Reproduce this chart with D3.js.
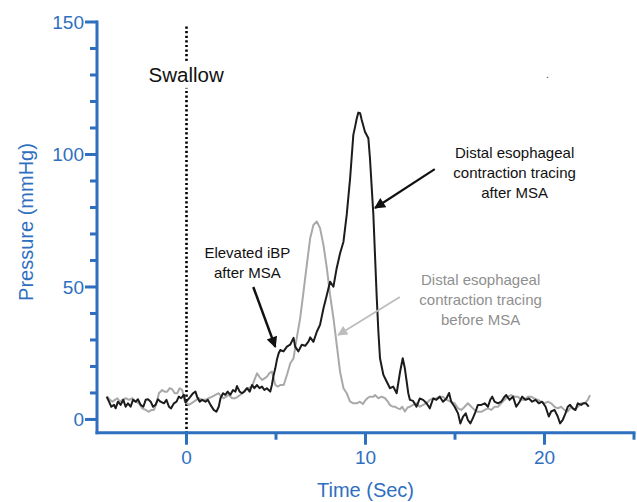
<!DOCTYPE html>
<html><head><meta charset="utf-8">
<script src="https://cdn.jsdelivr.net/npm/d3@7"></script>
<style>
html,body{margin:0;padding:0;background:#fff;}
svg{display:block;font-family:"Liberation Sans",Arial,sans-serif;}
</style></head>
<body>
<svg id="chart" width="637" height="502"></svg>
<script>
// ---- data ----
const afterT = [-4.46,-4.33,-4.20,-4.05,-3.96,-3.83,-3.68,-3.53,-3.40,-3.27,-3.12,-2.99,-2.84,-2.71,-2.56,-2.41,-2.28,-2.15,-2.00,-1.87,-1.73,-1.60,-1.45,-1.26,-1.12,-0.98,-0.86,-0.70,-0.56,-0.43,-0.30,-0.15,-0.05,0.07,0.22,0.37,0.50,0.59,0.74,0.87,1.06,1.19,1.34,1.52,1.67,1.80,1.90,2.04,2.17,2.30,2.45,2.60,2.73,2.82,2.97,3.10,3.23,3.38,3.53,3.66,3.79,3.94,4.08,4.22,4.35,4.49,4.68,4.77,4.87,4.96,5.05,5.15,5.24,5.42,5.61,5.79,5.98,6.07,6.25,6.44,6.63,6.82,6.91,7.09,7.28,7.46,7.65,7.84,8.02,8.21,8.39,8.58,8.77,8.95,9.14,9.32,9.42,9.51,9.60,9.70,9.79,9.97,10.16,10.25,10.35,10.44,10.53,10.63,10.72,10.81,11.00,11.18,11.37,11.55,11.74,11.93,12.08,12.20,12.39,12.48,12.66,12.85,13.03,13.22,13.41,13.59,13.78,13.96,14.15,14.33,14.52,14.67,14.79,14.98,15.17,15.30,15.45,15.60,15.72,15.86,16.00,16.15,16.28,16.47,16.66,16.84,16.97,17.08,17.21,17.40,17.58,17.77,17.86,18.05,18.24,18.42,18.61,18.75,18.94,19.13,19.31,19.50,19.68,19.87,20.06,20.24,20.37,20.56,20.74,20.87,21.02,21.17,21.30,21.43,21.58,21.73,21.86,22.05,22.18,22.32,22.47];
const afterP = [8.6,6.7,4.8,5.5,4.2,6.7,5.5,7.4,4.8,6.1,4.8,7.4,6.7,7.6,5.5,4.8,7.4,7.6,6.7,4.8,5.5,7.6,6.7,6.1,7.4,4.8,4.2,6.1,6.7,8.6,8.0,9.3,6.4,7.4,8.6,9.9,10.5,8.6,6.7,7.4,6.7,7.4,5.5,3.6,2.9,4.8,8.0,9.9,9.3,10.5,9.3,11.1,10.5,12.6,10.5,9.9,10.5,11.8,10.5,13.0,11.8,13.0,11.8,12.4,11.1,11.8,10.5,13.0,16.8,19.3,22.5,25.0,26.2,25.7,27.5,28.2,30.8,27.5,25.7,28.2,27.8,29.5,31.0,29.3,33.1,35.7,41.9,47.0,52.0,50.1,57.1,62.7,67.1,77.2,91.0,107.4,110.5,113.6,115.8,115.6,113.0,108.6,106.1,98.5,87.2,77.2,62.1,45.7,33.1,23.1,16.8,14.3,11.8,12.4,9.9,17.9,23.1,19.2,9.9,7.4,7.0,4.8,7.9,7.4,6.1,4.2,7.9,7.4,8.6,6.7,7.9,10.0,6.7,4.8,2.3,-1.5,1.1,2.3,-0.2,-1.5,0.5,3.0,5.5,5.5,6.1,4.8,7.4,8.6,6.7,6.1,6.7,8.6,9.2,7.4,8.6,4.8,6.7,8.6,7.4,7.9,6.7,7.4,6.1,6.7,4.8,1.1,3.0,3.6,1.1,-1.5,-0.2,2.3,4.8,5.5,4.2,3.6,6.1,5.5,6.1,6.1,4.8];

const beforeT = [-4.42,-4.28,-4.14,-4.00,-3.86,-3.72,-3.58,-3.40,-3.21,-3.02,-2.84,-2.66,-2.47,-2.28,-2.10,-1.96,-1.82,-1.68,-1.54,-1.36,-1.22,-1.08,-0.94,-0.80,-0.66,-0.52,-0.38,-0.24,-0.09,0.13,0.27,0.41,0.55,0.69,0.87,1.06,1.24,1.43,1.62,1.80,1.94,2.08,2.22,2.36,2.55,2.73,2.87,3.01,3.20,3.38,3.52,3.66,3.80,3.94,4.08,4.22,4.36,4.50,4.63,4.77,4.96,5.10,5.24,5.43,5.61,5.80,5.98,6.16,6.35,6.54,6.72,6.91,7.09,7.28,7.46,7.65,7.84,8.02,8.21,8.39,8.58,8.77,8.95,9.13,9.32,9.51,9.69,9.85,9.97,10.10,10.25,10.44,10.53,10.72,10.90,11.09,11.25,11.37,11.50,11.65,11.80,11.93,12.05,12.20,12.35,12.48,12.66,12.85,13.03,13.22,13.41,13.59,13.78,13.96,14.15,14.33,14.52,14.79,14.98,15.17,15.35,15.54,15.72,15.91,16.09,16.28,16.47,16.66,16.84,17.03,17.21,17.40,17.58,17.77,17.95,18.14,18.33,18.52,18.70,18.89,19.07,19.26,19.44,19.63,19.81,20.00,20.18,20.37,20.56,20.74,20.93,21.11,21.30,21.49,21.67,21.86,22.05,22.24,22.42,22.54];
const beforeP = [8.6,7.4,6.7,7.4,8.0,6.7,7.4,8.0,7.4,8.0,6.7,6.1,4.2,3.6,2.9,3.6,3.6,6.1,9.9,11.1,10.5,10.5,11.8,11.4,9.9,9.9,11.8,11.1,6.7,5.5,6.1,6.7,7.4,8.0,7.4,7.4,8.0,8.6,9.3,9.9,8.6,8.0,8.6,9.3,8.0,8.0,8.6,9.3,10.5,11.8,12.0,12.4,15.0,17.4,16.0,14.9,15.5,16.2,17.5,18.1,13.0,12.4,13.0,13.0,16.8,21.2,23.1,30.8,38.2,48.3,58.3,68.4,73.4,74.7,72.2,65.9,57.1,47.0,38.2,28.3,18.0,11.8,9.9,6.8,6.1,6.1,6.7,5.8,7.0,8.0,8.6,8.6,9.2,8.0,8.6,8.0,6.7,5.4,4.9,4.8,4.2,3.9,4.8,3.0,4.5,4.8,5.5,6.1,4.8,5.5,6.1,7.4,7.9,8.0,8.6,8.6,7.4,6.7,6.1,4.2,3.6,4.8,6.1,4.8,3.6,2.9,2.9,3.6,4.2,3.6,4.8,4.8,6.1,7.4,8.6,9.2,8.6,8.6,7.4,7.4,8.6,8.6,7.9,7.4,6.7,6.1,6.7,6.1,4.8,4.2,4.8,3.6,3.0,4.8,3.6,4.8,6.1,6.1,7.4,9.2];

const xTicksMajor = [0, 10, 20];
const xTicksMinor = [5, 15, 25];
const yTicksMajor = [0, 50, 100, 150];
const yTicksMinor = [10, 20, 30, 40, 60, 70, 80, 90, 110, 120, 130, 140];
const swallowLabel = "Swallow";
const ibpLabel = ["Elevated iBP", "after MSA"];
const afterLabel = ["Distal esophageal", "contraction tracing", "after MSA"];
const beforeLabel = ["Distal esophageal", "contraction tracing", "before MSA"];
const xTitle = "Time (Sec)";
const yTitle = "Pressure (mmHg)";

// ---- layout ----
const BLUE = "#2f6fbf";
const svg = d3.select("#chart");
const x = d3.scaleLinear().domain([-5, 25]).range([97, 634]);
const y = d3.scaleLinear().domain([-5, 150]).range([432.7, 22]);

// arrowheads
const defs = svg.append("defs");
function marker(id, color, w, h) {
  defs.append("marker").attr("id", id).attr("viewBox", "0 0 10 10")
    .attr("refX", 9).attr("refY", 5).attr("markerUnits", "userSpaceOnUse")
    .attr("markerWidth", w).attr("markerHeight", h).attr("orient", "auto")
    .append("path").attr("d", "M0,0 L10,5 L0,10 Z").attr("fill", color);
}
marker("ahBlack", "#111", 13, 11);
marker("ahGray", "#bdbdbd", 12, 10);

// swallow dotted line
svg.append("line")
  .attr("x1", x(0)).attr("x2", x(0)).attr("y1", y(148.3)).attr("y2", y(-4.9))
  .attr("stroke", "#000").attr("stroke-width", 2.6).attr("stroke-dasharray", "2.2,2.4");

// swallow label with white background
const sw = svg.append("text").attr("x", x(-2.12)).attr("y", y(127.4))
  .attr("font-size", 20.5).attr("fill", "#111").text(swallowLabel);
const bb = sw.node().getBBox();
svg.insert("rect", "text").attr("x", bb.x).attr("y", bb.y - 2)
  .attr("width", bb.width).attr("height", bb.height + 4).attr("fill", "#fff");

svg.append("text").attr("x", 546).attr("y", 78).attr("font-size", 10).attr("fill", "#333").text(".");

// traces
const line = d3.line().x(d => x(d[0])).y(d => y(d[1]));
const beforeData = beforeT.map((t, i) => [t, beforeP[i]]);
const afterData = afterT.map((t, i) => [t, afterP[i]]);
svg.append("path").datum(beforeData).attr("d", line)
  .attr("fill", "none").attr("stroke", "#a9a9a9").attr("stroke-width", 2).attr("stroke-linejoin", "round");
svg.append("path").datum(afterData).attr("d", line)
  .attr("fill", "none").attr("stroke", "#1c1c1c").attr("stroke-width", 2).attr("stroke-linejoin", "round");

// annotations
function multiline(lines, cx, baseV, color) {
  const t = svg.append("text").attr("text-anchor", "middle").attr("font-size", 15).attr("fill", color);
  lines.forEach((s, i) => t.append("tspan").attr("x", x(cx)).attr("y", y(baseV) + i * 20).text(s));
}
multiline(ibpLabel, 3.40, 60.9, "#111");
multiline(afterLabel, 18.33, 98.7, "#111");
multiline(beforeLabel, 16.43, 50.8, "#8f8f8f");

svg.append("line").attr("x1", x(3.73)).attr("y1", y(50.0)).attr("x2", x(4.96)).attr("y2", y(27.4))
  .attr("stroke", "#111").attr("stroke-width", 2.5).attr("marker-end", "url(#ahBlack)");
svg.append("line").attr("x1", x(13.87)).attr("y1", y(94.5)).attr("x2", x(10.53)).attr("y2", y(79.8))
  .attr("stroke", "#111").attr("stroke-width", 2.2).attr("marker-end", "url(#ahBlack)");
svg.append("line").attr("x1", x(11.92)).attr("y1", y(46.2)).attr("x2", x(8.47)).attr("y2", y(31.9))
  .attr("stroke", "#bdbdbd").attr("stroke-width", 1.8).attr("marker-end", "url(#ahGray)");

// axes
const ax = svg.append("g").attr("stroke", BLUE).attr("stroke-width", 3).attr("stroke-linecap", "square");
ax.append("line").attr("x1", x(-5)).attr("x2", x(25)).attr("y1", y(-5)).attr("y2", y(-5));
ax.append("line").attr("x1", x(-5)).attr("x2", x(-5)).attr("y1", y(-5)).attr("y2", y(150));
xTicksMajor.forEach(v => ax.append("line").attr("x1", x(v)).attr("x2", x(v)).attr("y1", y(-5)).attr("y2", y(-5) + 12).attr("stroke-linecap", "butt"));
xTicksMinor.forEach(v => ax.append("line").attr("x1", x(v)).attr("x2", x(v)).attr("y1", y(-5)).attr("y2", y(-5) + 7).attr("stroke-linecap", "butt"));
yTicksMajor.forEach(v => ax.append("line").attr("y1", y(v)).attr("y2", y(v)).attr("x1", x(-5)).attr("x2", x(-5) - 12).attr("stroke-linecap", "butt"));
yTicksMinor.forEach(v => ax.append("line").attr("y1", y(v)).attr("y2", y(v)).attr("x1", x(-5)).attr("x2", x(-5) - 7).attr("stroke-linecap", "butt"));

svg.selectAll(".xl").data(xTicksMajor).enter().append("text")
  .attr("x", d => x(d)).attr("y", 464).attr("text-anchor", "middle")
  .attr("font-size", 19).attr("fill", BLUE).text(d => d);
svg.selectAll(".yl").data(yTicksMajor).enter().append("text")
  .attr("x", 84).attr("y", d => y(d)).attr("dy", "0.35em").attr("text-anchor", "end")
  .attr("font-size", 19).attr("fill", BLUE).text(d => d);

svg.append("text").attr("x", x(10)).attr("y", 497).attr("text-anchor", "middle")
  .attr("font-size", 20).attr("fill", BLUE).text(xTitle);
svg.append("text").attr("transform", "translate(33," + 222 + ") rotate(-90)")
  .attr("text-anchor", "middle").attr("font-size", 20).attr("fill", BLUE).text(yTitle);
</script>
</body></html>
